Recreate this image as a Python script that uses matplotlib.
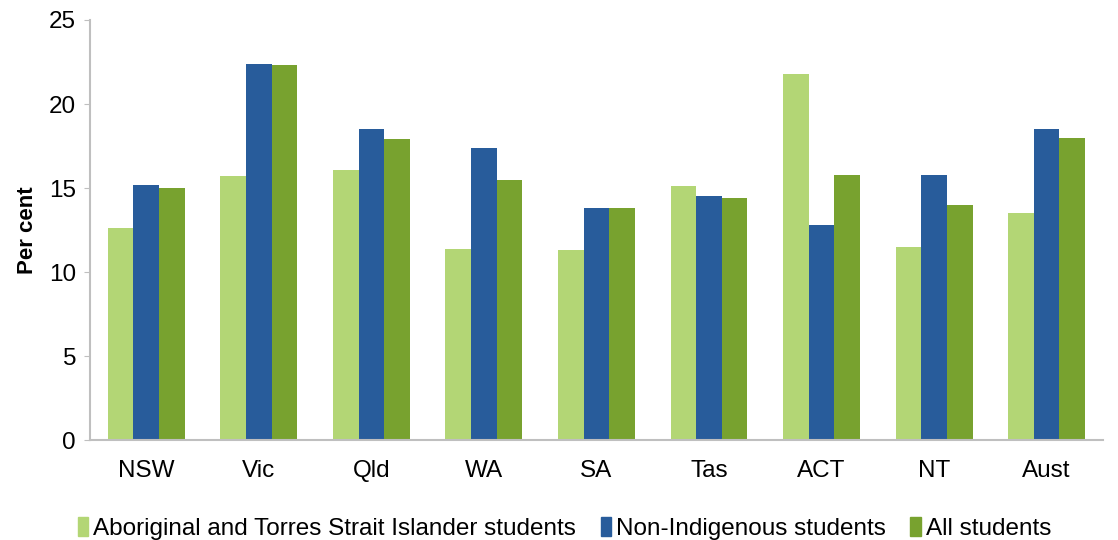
import numpy as np
import matplotlib.pyplot as plt
from matplotlib.patches import Patch

plt.rcParams['font.family'] = ['Liberation Sans', 'DejaVu Sans']

states = ["NSW", "Vic", "Qld", "WA", "SA", "Tas", "ACT", "NT", "Aust"]
indigenous = [12.6, 15.7, 16.1, 11.4, 11.3, 15.1, 21.8, 11.5, 13.5]
non_indigenous = [15.2, 22.4, 18.5, 17.4, 13.8, 14.5, 12.8, 15.8, 18.5]
all_students = [15.0, 22.3, 17.9, 15.5, 13.8, 14.4, 15.8, 14.0, 18.0]

series_names = ["Aboriginal and Torres Strait Islander students",
                "Non-Indigenous students", "All students"]
colours = ["#B3D675", "#285C9B", "#78A22F"]

fig = plt.figure(figsize=(11.18, 5.4), dpi=100)
ax = fig.add_axes([0.0805, 0.185, 0.906, 0.778])

x = np.arange(len(states))
w = 0.228
for i, (vals, c) in enumerate(zip([indigenous, non_indigenous, all_students], colours)):
    ax.bar(x + (i - 1) * w, vals, width=w, color=c, edgecolor="none")

ax.set_xlim(-0.5, len(states) - 0.5)
ax.set_ylim(0, 25)
ax.set_yticks([0, 5, 10, 15, 20, 25])
ax.set_xticks(x)
ax.set_xticklabels(states)
ax.tick_params(axis="x", length=0, labelsize=17.5, pad=14)
ax.tick_params(axis="y", length=4, color="#BFBFBF", labelsize=17.5, pad=6)

for side in ["top", "right"]:
    ax.spines[side].set_visible(False)
for side in ["left", "bottom"]:
    ax.spines[side].set_color("#BFBFBF")
    ax.spines[side].set_linewidth(1.5)

ax.set_ylabel("Per cent", fontsize=16, fontweight="bold", labelpad=8)

handles = [Patch(color=c, label=n) for c, n in zip(colours, series_names)]
fig.legend(handles=handles, loc="lower center", bbox_to_anchor=(0.505, -0.04),
           ncol=3, frameon=False, fontsize=17.5, handlelength=0.45, handleheight=0.8,
           handletextpad=0.2, columnspacing=1.0)

fig.savefig("out.png", dpi=100)
